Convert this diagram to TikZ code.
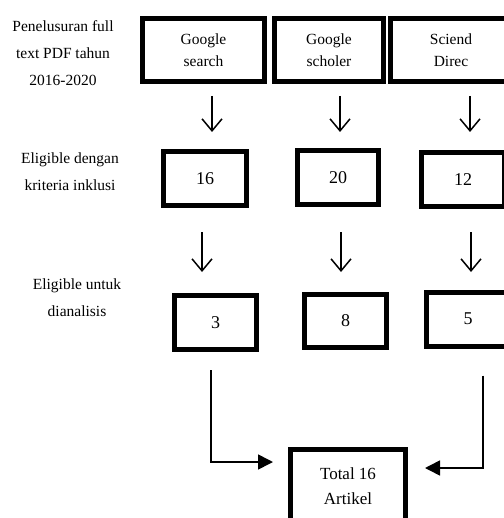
\documentclass[tikz,border=0pt]{standalone}
\usepackage{fontspec}
\setmainfont{Liberation Serif}
\usetikzlibrary{calc,arrows.meta,positioning}

\begin{document}
\begin{tikzpicture}[x=1pt,y=-1pt,every node/.style={font=\fontsize{15.5}{22}\selectfont},src/.style={draw,line width=5pt,minimum width=122pt,minimum height=63pt,align=center},num/.style={draw,line width=5pt,minimum width=83pt,minimum height=54pt,font=\fontsize{18}{22}\selectfont},lbl/.style={align=center,font=\fontsize{15.5}{27}\selectfont},down/.style={line width=1.5pt,-{Straight Barb[length=12pt,width=20pt]}},merge/.style={line width=1.6pt,-{Triangle[length=15pt,width=15pt]}}]
\useasboundingbox (0,0) rectangle (503,518);
\node[lbl] (lab1) at (63,53) {Penelusuran full\\text PDF tahun\\2016-2020};
\node[lbl] (lab2) at (70,171.5) {Eligible dengan\\kriteria inklusi};
\node[lbl] (lab3) at (77,298) {Eligible untuk\\dianalisis};
\node[src] (gs) at (203.5,50) {Google\\search};\node[src,minimum width=109pt] (gsch) at (329,50) {Google\\scholer};\node[src] (sd) at (451,50) {Sciend\\Direc};
\node[num] (n16) at (205,178.5) {16};\node[num,minimum width=81pt] (n20) at (338,177.5) {20};\node[num] (n12) at (463,179.5) {12};
\node[num,minimum width=82pt] (n3) at (215.5,322.5) {3};\node[num,minimum width=82pt,minimum height=53pt] (n8) at (345.5,321) {8};\node[num] (n5) at (468,319) {5};
\node[draw,line width=5pt,minimum width=115pt,minimum height=73pt,align=center,font=\fontsize{17}{25}\selectfont] (tot) at (348,486) {Total 16\\Artikel};
\draw[down] ($(gs.south)+(8.5,12)$) -- ++(0,36);\draw[down] ($(gsch.south)+(11,12)$) -- ++(0,36);\draw[down] ($(sd.south)+(19,12)$) -- ++(0,36);
\draw[down] ($(n16.south)+(-3,24)$) -- ++(0,40);\draw[down] ($(n20.south)+(3,25)$) -- ++(0,40);\draw[down] ($(n12.south)+(8,23)$) -- ++(0,40);
\draw[merge] ($(n3.south)+(-4.5,18)$) |- ($(tot.west)+(-15,-24)$);
\draw[merge] ($(n5.south)+(15,27)$) |- ($(tot.east)+(17,-18)$);
\end{tikzpicture}
\end{document}
